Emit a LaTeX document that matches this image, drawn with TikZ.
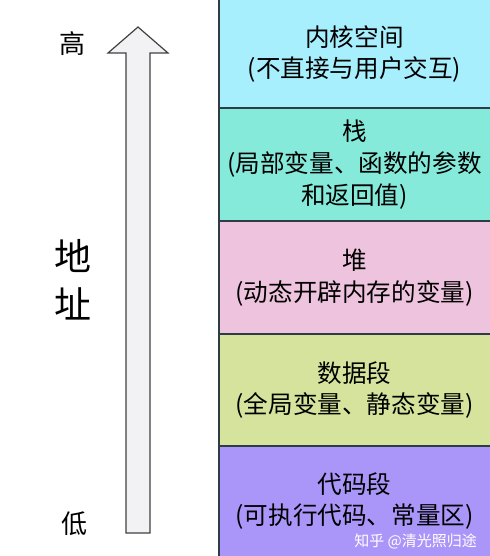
\documentclass[tikz,border=0pt]{standalone}
\usepackage{fontspec}
\setmainfont{Noto Sans CJK SC}
\usetikzlibrary{positioning}
\definecolor{kernelc}{HTML}{A7EFFD}
\definecolor{stackc}{HTML}{86EADA}
\definecolor{heapc}{HTML}{EEC3DE}
\definecolor{datac}{HTML}{D5E39C}
\definecolor{codec}{HTML}{AA95F8}
\definecolor{edgec}{HTML}{2F3C45}
\definecolor{arrowc}{HTML}{F2F2F4}
\tikzset{
  seg/.style={minimum width=135.5pt, inner sep=0pt, outer sep=0pt, align=center,
              font=\fontsize{12.3}{15.8}\selectfont},
  sep/.style={draw=edgec, line width=1pt},
}
\begin{document}
\begin{tikzpicture}[x=0.5pt,y=-0.5pt]
    \useasboundingbox (0,0) rectangle (490,556);
    % memory segments, top to bottom
    \node[seg, fill=kernelc, minimum height=54pt, anchor=north west] (kernel) at (219,0) {内核空间\\(不直接与用户交互)};
    \node[seg, fill=stackc, minimum height=56.5pt, below=0pt of kernel] (stack) {栈\\(局部变量、函数的参数\\和返回值)};
    \node[seg, fill=heapc, minimum height=56.5pt, below=0pt of stack] (heap) {堆\\(动态开辟内存的变量)};
    \node[seg, fill=datac, minimum height=56pt, below=0pt of heap] (data) {数据段\\(全局变量、静态变量)};
    \node[seg, fill=codec, minimum height=55pt, below=0pt of data] (code) {代码段\\(可执行代码、常量区)};
    \foreach \s in {kernel,stack,heap,data}
        { \draw[sep] (\s.south west)--(\s.south east); }
    \draw[sep] (kernel.north west)--(code.south west);
    % address arrow
    \draw[fill=arrowc, draw=black!75, line width=0.6pt]
        (126,533)--(126,53)--(108,53)--(138,27)--(168,53)--(150,53)--(150,533)--cycle;
    \node[font=\fontsize{13}{13}\selectfont] (high) at (72,44) {高};
    \node[font=\fontsize{13}{13}\selectfont] (low) at (74,524) {低};
    \node[font=\fontsize{18.5}{24}\selectfont, align=center] (addr) at (73,280) {地\\址};
    \node[font=\fontsize{7.5}{7.5}\selectfont, text=white, anchor=east] (mark) at (484,541) {知乎 @清光照归途};
\end{tikzpicture}
\end{document}
